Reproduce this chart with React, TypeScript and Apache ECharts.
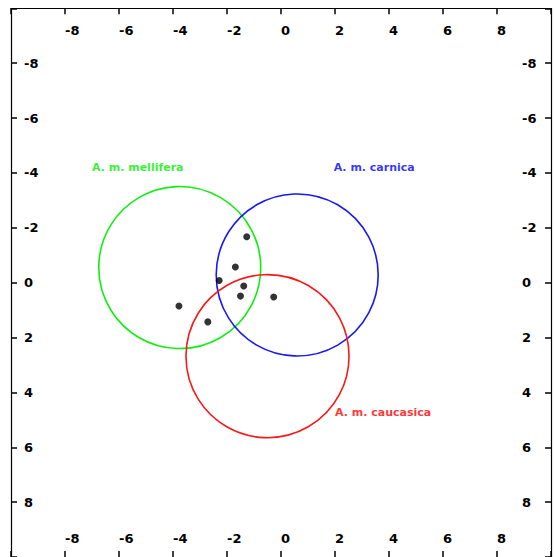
import React, { useEffect, useRef } from "react";
import * as echarts from "echarts";

const circleNames = ["A. m. mellifera", "A. m. carnica", "A. m. caucasica"];
const circleX = [-3.75, 0.6, -0.5];
const circleY = [-0.55, -0.28, 2.68];
const circleR = [3, 3, 3.02];
const circleColors = ["#10ee10", "#1818f8", "#f81818"];
const textColors = ["#00ee00", "#0000ff", "#ff0000"];
const labelX = [-7.0, 1.95, 2.0];
const labelY = [-4.2, -4.2, 4.75];

const pointX = [-1.27, -1.69, -2.29, -1.38, -1.5, -0.27, -3.78, -2.71];
const pointY = [-1.67, -0.57, -0.08, 0.12, 0.49, 0.52, 0.85, 1.43];

const axisMin = -10;
const axisMax = 10;
const axisInterval = 2;

export default function App() {
  const ref = useRef<HTMLDivElement>(null);
  useEffect(() => {
    if (!ref.current) return;
    const chart = echarts.init(ref.current, undefined, { renderer: "svg" });
    const labelFont = {
      fontFamily: "DejaVu Sans",
      fontSize: 13,
      fontWeight: "bold" as const,
      color: "#000",
    };
    const hideEnds = (v: number) => (v === axisMin || v === axisMax ? "" : String(v));
    const axisCommon = {
      type: "value" as const,
      min: axisMin,
      max: axisMax,
      interval: axisInterval,
      splitLine: { show: false },
      axisLine: { show: true, onZero: false, lineStyle: { color: "#000", width: 1.2 } },
      axisTick: { show: true, inside: true, length: 6, lineStyle: { color: "#000", width: 1.5 } },
    };
    const option = {
      animation: false,
      backgroundColor: "#fff",
      grid: { left: 0.3, top: 0.3, width: 550, height: 550, containLabel: false },
      xAxis: [
        {
          ...axisCommon,
          position: "top",
          axisLabel: { ...labelFont, inside: true, margin: 16, align: "left", formatter: hideEnds },
        },
        {
          ...axisCommon,
          position: "bottom",
          axisLabel: { ...labelFont, inside: true, margin: 12, align: "left", formatter: hideEnds },
        },
      ],
      yAxis: [
        {
          ...axisCommon,
          inverse: true,
          position: "left",
          axisLabel: {
            ...labelFont,
            inside: true,
            margin: 13,
            align: "left",
            padding: [0, 0, 8, 0],
            formatter: hideEnds,
          },
        },
        {
          ...axisCommon,
          inverse: true,
          position: "right",
          axisLabel: {
            ...labelFont,
            inside: true,
            margin: 29,
            align: "left",
            padding: [0, 0, 8, 0],
            formatter: hideEnds,
          },
        },
      ],
      series: [
        {
          type: "custom",
          xAxisIndex: 0,
          yAxisIndex: 0,
          clip: false,
          encode: { x: 0, y: 1 },
          data: circleX.map((x, i) => [x, circleY[i], circleR[i]]),
          renderItem: (params: any, api: any) => {
            const c = api.coord([api.value(0), api.value(1)]);
            const s = api.size([api.value(2), api.value(2)]);
            return {
              type: "circle",
              shape: { cx: c[0], cy: c[1], r: Math.abs(s[0]) },
              style: { fill: "none", stroke: circleColors[params.dataIndex], lineWidth: 1.6 },
            };
          },
          silent: true,
        },
        {
          type: "scatter",
          xAxisIndex: 0,
          yAxisIndex: 0,
          symbol: "circle",
          symbolSize: 7,
          itemStyle: { color: "#000" },
          data: pointX.map((x, i) => [x, pointY[i]]),
          silent: true,
        },
        {
          type: "scatter",
          xAxisIndex: 0,
          yAxisIndex: 0,
          symbolSize: 0,
          silent: true,
          data: labelX.map((x, i) => ({
            value: [x, labelY[i]],
            name: circleNames[i],
            label: {
              show: true,
              position: "right",
              distance: 0,
              formatter: circleNames[i],
              color: textColors[i],
              fontFamily: "DejaVu Sans",
              fontSize: 11,
              fontWeight: "bold",
            },
          })),
        },
      ],
    };
    chart.setOption(option as any);
    return () => chart.dispose();
  }, []);
  return (
    <div
      ref={ref}
      style={{ position: "absolute", left: 8, top: 8, width: 546, height: 549, overflow: "hidden" }}
    />
  );
}
